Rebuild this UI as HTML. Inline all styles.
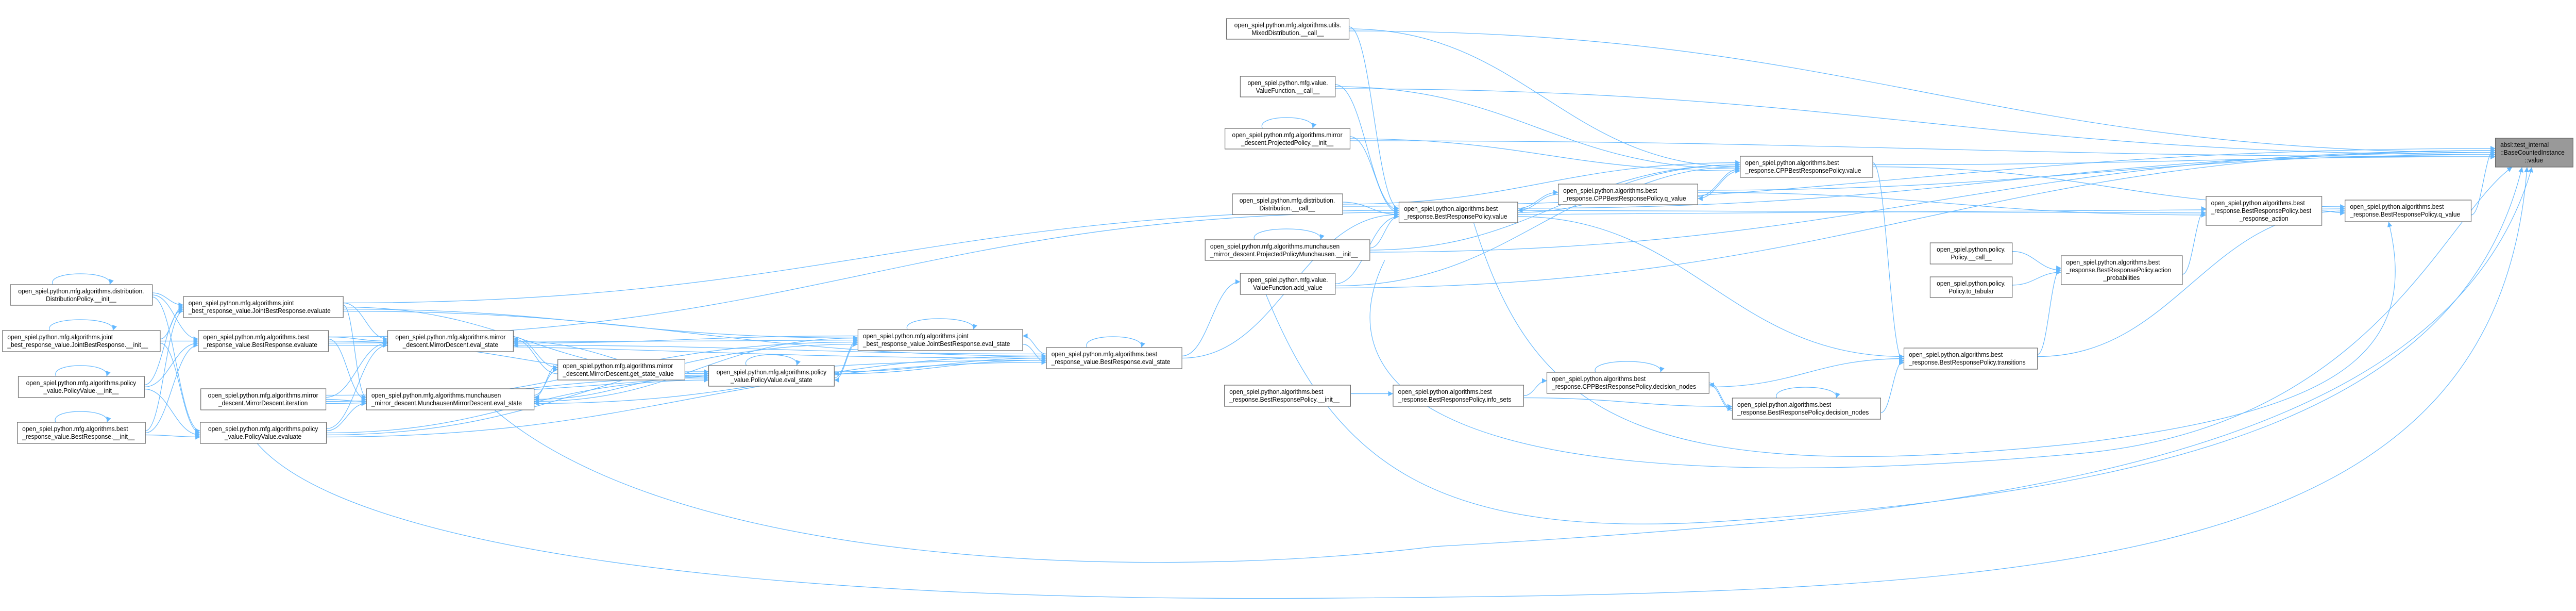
<!DOCTYPE html>
<html><head><meta charset="utf-8"><style>
html,body{margin:0;padding:0;background:#fff;overflow:hidden;width:100%;height:100%;}
svg{display:block;width:100vw;height:100vh;}
text{font-family:"Liberation Sans",Arial,sans-serif;font-size:12.5px;fill:#000;}
rect.n{fill:#fff;stroke:#666;stroke-width:1.2;}
rect.g{fill:#999;stroke:#666;stroke-width:1.2;}
path.e{fill:none;stroke:#63b8ff;stroke-width:1.2;}
</style></head><body>
<svg id="s" viewBox="0 0 5209 1185" preserveAspectRatio="none" xmlns="http://www.w3.org/2000/svg">
<defs><marker id="ar" viewBox="0 0 10 10" refX="10" refY="5" markerWidth="10" markerHeight="10" markerUnits="userSpaceOnUse" orient="auto"><path d="M0,0 L10,5 L0,10 z" fill="#63b8ff"/></marker></defs>
<g id="edges"></g>
<g id="nodes">
<rect class="n" x="21" y="552" width="287" height="40"/><text x="164" y="569" text-anchor="middle">open_spiel.python.mfg.algorithms.distribution.</text><text x="164" y="584" text-anchor="middle">DistributionPolicy.__init__</text>
<rect class="n" x="5" y="641" width="319" height="41"/><text x="15" y="658">open_spiel.python.mfg.algorithms.joint</text><text x="15" y="673">_best_response_value.JointBestResponse.__init__</text>
<rect class="n" x="37" y="730" width="255" height="41"/><text x="164" y="747" text-anchor="middle">open_spiel.python.mfg.algorithms.policy</text><text x="164" y="762" text-anchor="middle">_value.PolicyValue.__init__</text>
<rect class="n" x="35" y="819" width="259" height="41"/><text x="45" y="836">open_spiel.python.mfg.algorithms.best</text><text x="45" y="851">_response_value.BestResponse.__init__</text>
<rect class="n" x="371" y="575" width="323" height="41"/><text x="381" y="592">open_spiel.python.mfg.algorithms.joint</text><text x="381" y="607">_best_response_value.JointBestResponse.evaluate</text>
<rect class="n" x="401" y="641" width="263" height="41"/><text x="411" y="658">open_spiel.python.mfg.algorithms.best</text><text x="411" y="673">_response_value.BestResponse.evaluate</text>
<rect class="n" x="406" y="754" width="253" height="41"/><text x="532" y="771" text-anchor="middle">open_spiel.python.mfg.algorithms.mirror</text><text x="532" y="786" text-anchor="middle">_descent.MirrorDescent.iteration</text>
<rect class="n" x="405" y="819" width="255" height="41"/><text x="532" y="836" text-anchor="middle">open_spiel.python.mfg.algorithms.policy</text><text x="532" y="851" text-anchor="middle">_value.PolicyValue.evaluate</text>
<rect class="n" x="784" y="641" width="254" height="41"/><text x="911" y="658" text-anchor="middle">open_spiel.python.mfg.algorithms.mirror</text><text x="911" y="673" text-anchor="middle">_descent.MirrorDescent.eval_state</text>
<rect class="n" x="741" y="754" width="339" height="41"/><text x="751" y="771">open_spiel.python.mfg.algorithms.munchausen</text><text x="751" y="786">_mirror_descent.MunchausenMirrorDescent.eval_state</text>
<rect class="n" x="1128" y="697" width="257" height="40"/><text x="1138" y="714">open_spiel.python.mfg.algorithms.mirror</text><text x="1138" y="729">_descent.MirrorDescent.get_state_value</text>
<rect class="n" x="1433" y="709" width="254" height="40"/><text x="1560" y="726" text-anchor="middle">open_spiel.python.mfg.algorithms.policy</text><text x="1560" y="741" text-anchor="middle">_value.PolicyValue.eval_state</text>
<rect class="n" x="1735" y="639" width="333" height="41"/><text x="1745" y="656">open_spiel.python.mfg.algorithms.joint</text><text x="1745" y="671">_best_response_value.JointBestResponse.eval_state</text>
<rect class="n" x="2116" y="674" width="274" height="41"/><text x="2126" y="691">open_spiel.python.mfg.algorithms.best</text><text x="2126" y="706">_response_value.BestResponse.eval_state</text>
<rect class="n" x="2480" y="36" width="248" height="40"/><text x="2604" y="53" text-anchor="middle">open_spiel.python.mfg.algorithms.utils.</text><text x="2604" y="68" text-anchor="middle">MixedDistribution.__call__</text>
<rect class="n" x="2508" y="148" width="192" height="40"/><text x="2604" y="165" text-anchor="middle">open_spiel.python.mfg.value.</text><text x="2604" y="180" text-anchor="middle">ValueFunction.__call__</text>
<rect class="n" x="2477" y="249" width="253" height="40"/><text x="2603" y="266" text-anchor="middle">open_spiel.python.mfg.algorithms.mirror</text><text x="2603" y="281" text-anchor="middle">_descent.ProjectedPolicy.__init__</text>
<rect class="n" x="2492" y="376" width="223" height="40"/><text x="2603" y="393" text-anchor="middle">open_spiel.python.mfg.distribution.</text><text x="2603" y="408" text-anchor="middle">Distribution.__call__</text>
<rect class="n" x="2829" y="392" width="240" height="40"/><text x="2839" y="409">open_spiel.python.algorithms.best</text><text x="2839" y="424">_response.BestResponsePolicy.value</text>
<rect class="n" x="2437" y="465" width="333" height="40"/><text x="2447" y="482">open_spiel.python.mfg.algorithms.munchausen</text><text x="2447" y="497">_mirror_descent.ProjectedPolicyMunchausen.__init__</text>
<rect class="n" x="2508" y="530" width="192" height="41"/><text x="2604" y="547" text-anchor="middle">open_spiel.python.mfg.value.</text><text x="2604" y="562" text-anchor="middle">ValueFunction.add_value</text>
<rect class="n" x="2476" y="747" width="255" height="41"/><text x="2486" y="764">open_spiel.python.algorithms.best</text><text x="2486" y="779">_response.BestResponsePolicy.__init__</text>
<rect class="n" x="2817" y="747" width="264" height="41"/><text x="2827" y="764">open_spiel.python.algorithms.best</text><text x="2827" y="779">_response.BestResponsePolicy.info_sets</text>
<rect class="n" x="3151" y="357" width="282" height="40"/><text x="3161" y="374">open_spiel.python.algorithms.best</text><text x="3161" y="389">_response.CPPBestResponsePolicy.q_value</text>
<rect class="n" x="3519" y="303" width="268" height="41"/><text x="3529" y="320">open_spiel.python.algorithms.best</text><text x="3529" y="335">_response.CPPBestResponsePolicy.value</text>
<rect class="n" x="3128" y="722" width="328" height="41"/><text x="3138" y="739">open_spiel.python.algorithms.best</text><text x="3138" y="754">_response.CPPBestResponsePolicy.decision_nodes</text>
<rect class="n" x="3503" y="772" width="300" height="41"/><text x="3513" y="789">open_spiel.python.algorithms.best</text><text x="3513" y="804">_response.BestResponsePolicy.decision_nodes</text>
<rect class="n" x="3850" y="675" width="270" height="41"/><text x="3860" y="692">open_spiel.python.algorithms.best</text><text x="3860" y="707">_response.BestResponsePolicy.transitions</text>
<rect class="n" x="3903" y="471" width="166" height="41"/><text x="3986" y="488" text-anchor="middle">open_spiel.python.policy.</text><text x="3986" y="503" text-anchor="middle">Policy.__call__</text>
<rect class="n" x="3903" y="537" width="166" height="40"/><text x="3986" y="554" text-anchor="middle">open_spiel.python.policy.</text><text x="3986" y="569" text-anchor="middle">Policy.to_tabular</text>
<rect class="n" x="4168" y="496" width="245" height="56"/><text x="4178" y="513">open_spiel.python.algorithms.best</text><text x="4178" y="528">_response.BestResponsePolicy.action</text><text x="4290" y="543" text-anchor="middle">_probabilities</text>
<rect class="n" x="4461" y="381" width="234" height="56"/><text x="4471" y="398">open_spiel.python.algorithms.best</text><text x="4471" y="413">_response.BestResponsePolicy.best</text><text x="4578" y="428" text-anchor="middle">_response_action</text>
<rect class="n" x="4742" y="388" width="255" height="42"/><text x="4752" y="405">open_spiel.python.algorithms.best</text><text x="4752" y="420">_response.BestResponsePolicy.q_value</text>
<rect class="g" x="5046" y="268" width="157" height="56"/><text x="5056" y="285">absl::test_internal</text><text x="5056" y="300">::BaseCountedInstance</text><text x="5124" y="315" text-anchor="middle">::value</text>
</g>
</svg>
<script>
var N={A:[21,552,308,592],B:[5,641,324,682],C:[37,730,292,771],D:[35,819,294,860],E:[371,575,694,616],F:[401,641,664,682],G:[406,754,659,795],H:[405,819,660,860],I:[784,641,1038,682],J:[741,754,1080,795],K:[1128,697,1385,737],L:[1433,709,1687,749],M:[1735,639,2068,680],N:[2116,674,2390,715],O:[2480,36,2728,76],P:[2508,148,2700,188],Q:[2477,249,2730,289],R:[2492,376,2715,416],S:[2829,392,3069,432],T:[2437,465,2770,505],U:[2508,530,2700,571],V:[2476,747,2731,788],W:[2817,747,3081,788],X:[3151,357,3433,397],Y:[3519,303,3787,344],Z:[3128,722,3456,763],AA:[3503,772,3803,813],AB:[3850,675,4120,716],AC:[3903,471,4069,512],AD:[3903,537,4069,577],AE:[4168,496,4413,552],AF:[4461,381,4695,437],AG:[4742,388,4997,430],AH:[5046,268,5203,324]};
var E="A-E A-F A-H B-E B-F B-H C-E C-F C-H D-E D-F D-H E-I E-J E-L E-M E-N E-S F-I F-J F-L F-M F-N F-S G-I G-J G-L G-M G-N H-I H-J H-L H-M H-N I-K J-K K-L K-I K-J L-I L-J M-I M-J N-I N-J L-M M-L L-N N-L M-N N-M N-U N-S U-S U-Y U-AH O-S O-Y O-AH P-S P-Y P-AH Q-S Q-Y Q-AH R-S R-Y R-AH T-S T-Y T-AH S-X X-S S-Y S-AG S-AB S-AH X-Y Y-X X-AH V-W W-Z W-AA Z-AA AA-Z Z-AB AA-AB Y-AB Y-AH AB-AE AB-AG AC-AE AD-AE AE-AF AF-AG AG-AH S-AF X-AF Y-AG".split(" ");
var g=document.getElementById("edges"),h="",k={};
function P(a,b){var s=N[a],t=N[b],sx,sy,tx,ty,d;
k[a]=(k[a]||0)+1;k[b]=(k[b]||0)+1;
var os=((k[a]%5)-2)*5,ot=((k[b]%5)-2)*5;
if(t[0]>s[2]){sx=s[2];sy=(s[1]+s[3])/2+os*0.8;tx=t[0];ty=(t[1]+t[3])/2+ot*0.8;}
else if(t[2]<s[0]){sx=s[0];sy=(s[1]+s[3])/2+os*0.8;tx=t[2];ty=(t[1]+t[3])/2+ot*0.8;}
else{sx=(s[0]+s[2])/2+os*3;tx=(t[0]+t[2])/2+ot*3;if(t[1]>s[3]){sy=s[3];ty=t[1];}else{sy=s[1];ty=t[3];}
return "M"+sx+","+sy+" C"+sx+","+(sy+ty)/2+" "+tx+","+(sy+ty)/2+" "+tx+","+ty;}
d=(tx-sx)*0.45;return "M"+sx+","+sy+" C"+(sx+d)+","+sy+" "+(tx-d)+","+ty+" "+tx+","+ty;}
E.forEach(function(e){var p=e.split("-");h+='<path class="e" marker-end="url(#ar)" d="'+P(p[0],p[1])+'"/>';});
h+='<path class="e" marker-end="url(#ar)" d="M520,860 C700,1060 1500,1170 2700,1160 C4200,1150 5050,1100 5110,324"/>';
h+='<path class="e" marker-end="url(#ar)" d="M1000,795 C1400,1120 2400,1120 2900,1060 C4000,1000 4950,900 5120,324"/>';
h+='<path class="e" marker-end="url(#ar)" d="M2560,571 C2700,900 2900,1050 3500,1010 C4400,950 4980,800 5100,324"/>';
h+='<path class="e" marker-end="url(#ar)" d="M2800,505 C2700,700 2780,1000 4200,880 C4800,830 4940,420 5080,324"/>';
h+='<path class="e" marker-end="url(#ar)" d="M2980,432 C3100,800 3300,950 4200,860 C4700,800 4900,700 4830,430"/>';
["A","B","C","D","L","M","N","Q","T","Z","AA"].forEach(function(n){var b=N[n],w=b[2]-b[0],a=b[0]+w*0.3,c=b[0]+w*0.7;
h+='<path class="e" marker-end="url(#ar)" d="M'+a+','+b[1]+' C'+(a-15)+','+(b[1]-28)+' '+(c+10)+','+(b[1]-28)+' '+c+','+b[1]+'"/>';});
g.innerHTML=h;
</script>
</body></html>
